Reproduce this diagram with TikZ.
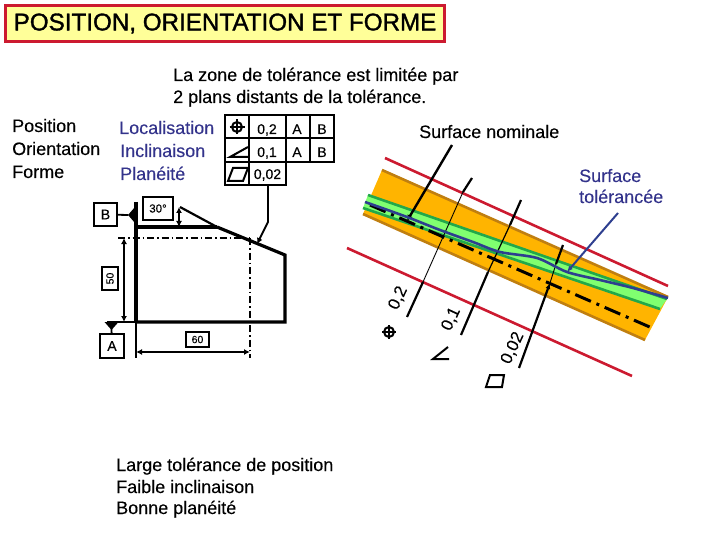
\documentclass[tikz,border=0pt]{standalone}
\usepackage{fontspec}
\setmainfont[FakeBold=0.2]{Liberation Sans}
\newfontfamily\titlefont[FakeBold=1.4]{Liberation Sans}
\usetikzlibrary{arrows.meta}
\definecolor{bandorange}{HTML}{FFB400}
\definecolor{bandbrown}{HTML}{C07F10}
\definecolor{bandgreen}{HTML}{22A84A}
\definecolor{bandlight}{HTML}{80FF70}
\definecolor{limitred}{HTML}{CC1A30}
\definecolor{txtblue}{HTML}{33338B}
\definecolor{curveblue}{HTML}{2E3F8F}
\definecolor{titleyellow}{HTML}{FFFF99}
\newcommand{\fs}[1]{\fontsize{#1}{#1}\selectfont}
\tikzset{
  txt/.style={inner sep=0pt,anchor=base west,font=\fs{18}},
  bluetxt/.style={txt,text=txtblue},
  celltxt/.style={inner sep=0pt,anchor=base,font=\fs{14}},
  framed/.style={draw,line width=2pt,inner sep=0pt,minimum width=#1,fill=white},
  part/.style={line width=3.2pt,line join=miter},
  axisline/.style={line width=2pt,dash pattern=on 7pt off 3pt on 1.5pt off 3pt},
  dim/.style={line width=1.8pt,{Latex[length=6pt,width=6pt]}-{Latex[length=6pt,width=6pt]}},
  heavy/.style={line width=2.2pt},
  fine/.style={line width=0.9pt},
  tip/.style={-{Latex[length=6pt,width=5pt]}},
  tblline/.style={line width=2pt},
  symb/.style={line width=2pt},
  rotlab/.style={inner sep=0pt,font=\fs{17},rotate=65}
}
\begin{document}
\begin{tikzpicture}[x=1pt,y=-1pt]
\useasboundingbox (0,0) rectangle (720,540);
% title
\node[draw=limitred,line width=3pt,fill=titleyellow,minimum width=439pt,minimum height=36pt,inner sep=0pt,anchor=center,font=\titlefont\fs{24.2}] (title) at (225,23.5) {POSITION, ORIENTATION ET FORME};
% top text
\node[txt] (t1) at (173,81) {La zone de tolérance est limitée par};
\node[txt] (t2) at (173,103) {2 plans distants de la tolérance.};
% left lists
\node[txt] (p1) at (12,132) {Position};
\node[txt] (p2) at (12,155) {Orientation};
\node[txt] (p3) at (12,178) {Forme};
\node[bluetxt] (q1) at (119,134) {Localisation};
\node[bluetxt] (q2) at (120,157) {Inclinaison};
\node[bluetxt] (q3) at (120,180) {Planéité};
% table
\draw[tblline] (225,115) rectangle (334,162);
\draw[tblline] (225,138.5) -- (334,138.5);
\draw[tblline] (225,162) rectangle (286,185);
\draw[tblline] (249,115) -- (249,185);
\draw[tblline] (286,115) -- (286,162);
\draw[tblline] (310,115) -- (310,162);
\draw[symb] (237,127) circle (5);
\draw[symb] (237,119.5) -- (237,134.5) (229.5,127) -- (244.5,127);
\draw[symb] (248,147) -- (230,157) -- (248,157);
\draw[symb] (228,181) -- (243,181) -- (248,168) -- (233,168) -- cycle;
\node[celltxt] (c1) at (267,134) {0,2};
\node[celltxt] (c2) at (297,134) {A};
\node[celltxt] (c3) at (322,134) {B};
\node[celltxt] (c4) at (267,157) {0,1};
\node[celltxt] (c5) at (297,157) {A};
\node[celltxt] (c6) at (322,157) {B};
\node[celltxt] (c7) at (267.5,179) {0,02};
% profile
\coordinate (lead0) at (268,185);
\coordinate (lead1) at (268,222);
\coordinate (lead2) at (257,244);
\draw[line width=1.8pt,-{Latex[length=6pt,width=6pt]}] (lead0) -- (lead1) -- (lead2);
\draw[part] (136,202) -- (136,322);
\draw[line width=1.8pt] (136,322) -- (136,358);
\draw[part] (136,227) -- (217,227);
\draw[part] (217,227) -- (285,255) -- (285,322) -- (136,322);
\draw[line width=2.2pt] (217,227) -- (180,207);
\draw[line width=2pt] (136,322) -- (107,322);
\draw[axisline] (118,238) -- (250,238);
\draw[axisline] (250,238) -- (250,358);
\draw[dim] (124,238) -- (124,322);
\draw[dim] (136,352) -- (250,352);
\draw[dim] (179,207) -- (179,227);
% datums
\node[framed=23pt,minimum height=23pt,font=\fs{14}] (B) at (105.5,214.5) {B};
\node[framed=24pt,minimum height=24pt,font=\fs{14}] (A) at (112,346) {A};
\coordinate (Bt) at (128,215);
\coordinate (At) at (111.5,329);
\draw[line width=1.8pt] (B) -- (Bt);
\draw[line width=1.8pt] (A) -- (At);
\fill (128,215) -- (135,207) -- (135,223) -- cycle;
\fill (104.5,322) -- (118.5,322) -- (111.5,330) -- cycle;
\node[framed=30pt,minimum height=23pt,font=\fs{11.5}] (d30) at (158,208.5) {30°};
\node[framed=23pt,minimum height=15pt,font=\fs{10.5}] (d60) at (197.5,339.5) {60};
\node[framed=23pt,minimum height=16pt,font=\fs{10.5},rotate=90] (d50) at (110,278.5) {50};
% tolerance zone
\fill[bandorange] (382,170) -- (668,297) -- (645,340) -- (363,214) -- cycle;
\draw[bandbrown,line width=2.6pt] (382,170) -- (668,297);
\draw[bandbrown,line width=2.6pt] (363,214) -- (645,340);
\fill[bandlight] (368,195) -- (667,299) -- (660,309) -- (363,208) -- cycle;
\draw[bandgreen,line width=2.6pt] (368,195) -- (667,299);
\draw[bandgreen,line width=2.6pt] (363,208) -- (660,309);
\draw[limitred,line width=2.6pt] (385,158) -- (668,286);
\draw[limitred,line width=2.6pt] (347,248) -- (632,376);
\draw[line width=3pt,dash pattern=on 17pt off 6pt on 3pt off 6pt] (370,205) -- (652,328);
\draw[heavy] (472,178) -- (463,192);
\draw[fine] (463,192) -- (423,282);
\draw[heavy] (423,282) -- (407,317);
\draw[heavy] (521,200) -- (510,225);
\draw[line width=1.2pt] (510,225) -- (488,272);
\draw[heavy] (488,272) -- (461,335);
\draw[heavy,tip] (519,368) -- (550,283);
\draw[fine] (550,283) -- (556,264);
\draw[heavy] (556,264) -- (563,245);
\draw[line width=2.4pt,-{Latex[length=6pt,width=6pt]}] (452,145) -- (407,221);
\draw[curveblue,line width=2.6pt] plot[smooth] coordinates {(365,202) (407,217) (440,230) (473,242) (500,252) (537,258) (567,272) (600,280) (633,288) (668,298)};
\draw[curveblue,line width=2pt,tip] (618,213) -- (567,272);
% labels on zone
\node[txt] (sn) at (419,138) {Surface nominale};
\node[bluetxt] (st1) at (579,182) {Surface};
\node[bluetxt] (st2) at (579,203) {tolérancée};
\node[rotlab] (l1) at (398,298) {0,2};
\node[rotlab] (l2) at (451,319) {0,1};
\node[rotlab] (l3) at (512.5,348) {0,02};
\draw[symb] (389,332) circle (5);
\draw[symb] (389,325) -- (389,339) (382,332) -- (396,332);
\draw[symb] (448,347) -- (433,359) -- (449,359);
\draw[symb] (486,387) -- (502,387) -- (504,375) -- (490,375) -- cycle;
% bottom text
\node[txt] (b1) at (116,471) {Large tolérance de position};
\node[txt] (b2) at (116,493) {Faible inclinaison};
\node[txt] (b3) at (116,514) {Bonne planéité};
\end{tikzpicture}
\end{document}
